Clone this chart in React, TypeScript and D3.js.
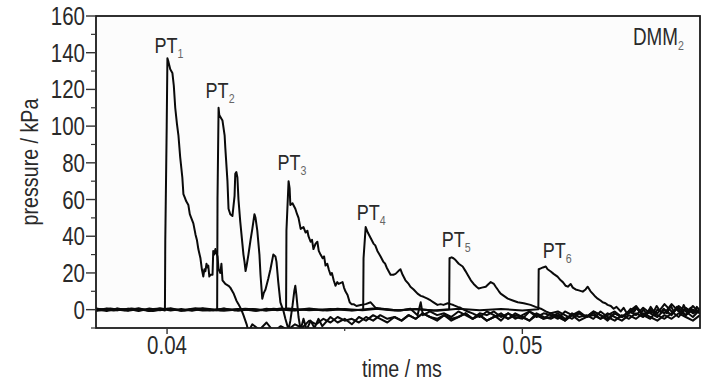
import React from "react";
import * as d3 from "d3";

// ---- axis ticks ----
const X_TICKS = [0.04, 0.05];
const X_MINOR = [0.045];
const Y_TICKS = [0, 20, 40, 60, 80, 100, 120, 140, 160];
const Y_MINOR = [-10, 10, 30, 50, 70, 90, 110, 130, 150];
const X_DOMAIN = [0.038, 0.055];
const Y_DOMAIN = [-10, 160];
const X_LABEL = "time / ms";
const Y_LABEL = "pressure / kPa";
const PANEL = "DMM";
const PANEL_SUB = "2";
const SENSOR_NAMES = ["1", "2", "3", "4", "5", "6"];

// ---- pressure traces (time ms, pressure kPa) ----
const PT1: [number, number][] = [
  [0.038, 0.3], [0.0383, -0.8], [0.0386, 0.6], [0.0389, -0.3], [0.0392, 0.8], [0.0395, -0.7], [0.0398, 0.3], [0.03994, -0.5],
  [0.03995, 38], [0.03999, 100], [0.04001, 137], [0.04004, 135], [0.04009, 131], [0.04015, 129], [0.04019, 122], [0.04023, 110],
  [0.04028, 101], [0.04032, 95], [0.04037, 83], [0.04043, 72], [0.04046, 63], [0.0405, 61], [0.04054, 59], [0.0406, 57],
  [0.04064, 52], [0.04068, 50], [0.04074, 47], [0.0408, 41], [0.04084, 38], [0.04088, 33], [0.04094, 28], [0.04098, 22],
  [0.04102, 18], [0.04105, 22], [0.04108, 21], [0.04111, 25], [0.04114, 23], [0.04116, 24], [0.04119, 18], [0.04122, 19],
  [0.04128, 19], [0.0413, 32], [0.04133, 30], [0.04136, 33], [0.04142, 29], [0.04145, 22], [0.0415, 20], [0.04153, 25],
  [0.04156, 16], [0.04164, 14], [0.04173, 13], [0.04178, 12], [0.04187, 9], [0.04195, 5], [0.04201, 3], [0.04209, 0],
  [0.04215, -3], [0.04224, -8], [0.04229, -12],
];
const PT2: [number, number][] = [
  [0.038, -0.5], [0.0383, 0.7], [0.0386, -0.4], [0.0389, 0.5], [0.0392, -0.7], [0.0395, 0.6], [0.0398, -0.3], [0.0401, 0.8],
  [0.0404, -0.6], [0.0407, 0.4], [0.041, -0.5], [0.04141, -0.3],
  [0.04142, 60], [0.04145, 110], [0.04147, 106], [0.04153, 104], [0.04156, 103], [0.04162, 95], [0.04164, 88], [0.0417, 70],
  [0.04173, 55], [0.04178, 52], [0.04184, 51], [0.0419, 62], [0.04192, 74], [0.04195, 75], [0.04198, 72], [0.04201, 60],
  [0.04206, 48], [0.04212, 36], [0.04215, 30], [0.04218, 26], [0.04221, 21], [0.04224, 24], [0.04229, 30], [0.04235, 38],
  [0.0424, 44], [0.04246, 52], [0.04249, 50], [0.04254, 43], [0.0426, 30], [0.04263, 19], [0.04268, 6], [0.04272, 9],
  [0.04277, 11], [0.04285, 17], [0.04291, 22], [0.04299, 30], [0.04305, 29], [0.04308, 26], [0.04313, 15], [0.04319, 4],
  [0.04328, -1], [0.04333, -5], [0.04342, -11], [0.04347, -6], [0.04353, 2], [0.04358, 10], [0.04361, 13], [0.04364, 8],
  [0.0437, -4], [0.04376, -11], [0.04384, -5], [0.04393, -11], [0.04404, -6], [0.04415, -10], [0.04426, -5], [0.04437, -9],
];
const PT3: [number, number][] = [
  [0.038, 0.7], [0.0383, -0.3], [0.0386, 0.5], [0.0389, -0.6], [0.0392, 0.4], [0.0395, -0.4], [0.0398, 0.6], [0.0401, -0.5],
  [0.0404, 0.3], [0.0407, -0.6], [0.041, 0.5], [0.0413, -0.3], [0.0416, 0.6], [0.0419, -0.4], [0.0422, 0.4], [0.0425, -0.6],
  [0.0428, 0.5], [0.0431, -0.3], [0.04335, 0.2],
  [0.04336, 43], [0.04342, 70], [0.04345, 66], [0.04347, 57], [0.04353, 58], [0.04361, 55], [0.04366, 52], [0.0437, 50],
  [0.04376, 44], [0.04384, 45], [0.0439, 42], [0.04395, 43], [0.04398, 40], [0.04404, 37], [0.04408, 38], [0.04412, 33],
  [0.04418, 36], [0.04423, 37], [0.04427, 32], [0.04432, 30], [0.04438, 28], [0.04442, 29], [0.04446, 24], [0.04451, 25],
  [0.04455, 22], [0.0446, 19], [0.04464, 20], [0.04469, 16], [0.04474, 13], [0.04479, 15], [0.04483, 14], [0.04494, 15],
  [0.04498, 12], [0.04502, 10], [0.04508, 8], [0.04514, 4], [0.04519, 3], [0.04525, 3], [0.04533, 2], [0.04545, 2.5],
  [0.04559, 3], [0.04573, 4], [0.04587, 1], [0.04601, 0.5], [0.04629, 0], [0.04657, -0.5], [0.04685, 0.5], [0.04705, -3],
  [0.04714, 4], [0.0472, -3],
];
const PT4: [number, number][] = [
  [0.038, -0.3], [0.0384, 0.6], [0.0388, -0.5], [0.0392, 0.4], [0.0396, -0.7], [0.04, 0.5], [0.0404, -0.4], [0.0408, 0.7],
  [0.0412, -0.3], [0.0416, 0.5], [0.042, -0.6], [0.0424, 0.4], [0.0428, -0.4], [0.0432, 0.6], [0.0436, -0.5], [0.044, 0.3],
  [0.0444, -0.4], [0.0448, 0.5], [0.0452, -0.3], [0.04552, 0],
  [0.04553, 28], [0.04559, 45], [0.04565, 42], [0.04573, 39], [0.04581, 36], [0.04586, 35], [0.04592, 32], [0.04601, 29],
  [0.04609, 26], [0.04614, 25], [0.04618, 23], [0.04629, 19], [0.04637, 19], [0.04643, 19.5], [0.04651, 21], [0.04657, 22],
  [0.04663, 19], [0.04671, 16], [0.0468, 14], [0.04685, 12.5], [0.04694, 11], [0.04705, 8.7], [0.04714, 7.5], [0.04722, 7],
  [0.04733, 6], [0.04742, 5], [0.0475, 4], [0.04761, 2.6], [0.0477, 3], [0.04778, 2.6], [0.0479, 3.5], [0.04798, 3],
  [0.04806, 2.5], [0.04818, 1.5], [0.04826, 1], [0.04835, 0], [0.04846, -1],
];
const PT5: [number, number][] = [
  [0.038, 0.5], [0.0385, -0.4], [0.039, 0.6], [0.0395, -0.6], [0.04, 0.3], [0.0405, -0.5], [0.041, 0.7], [0.0415, -0.3],
  [0.042, 0.4], [0.0425, -0.6], [0.043, 0.5], [0.0435, -0.4], [0.044, 0.6], [0.0445, -0.5], [0.045, 0.4], [0.0455, -0.3],
  [0.046, 0.6], [0.0465, -0.5], [0.047, 0.4], [0.0475, -0.4], [0.04794, 0.2],
  [0.04795, 28], [0.04801, 28.5], [0.04806, 28], [0.04812, 27], [0.04821, 25], [0.04832, 23.5], [0.0484, 21], [0.04846, 19],
  [0.04855, 16], [0.04863, 14], [0.04871, 12.5], [0.04877, 11.5], [0.04886, 12], [0.04897, 12.5], [0.04905, 14], [0.04911, 15],
  [0.0492, 14], [0.04925, 12.5], [0.04934, 10], [0.04939, 8.7], [0.04948, 7.5], [0.04959, 6], [0.04973, 5], [0.04987, 4],
  [0.05004, 3.5], [0.05023, 2.6], [0.05037, 1.5], [0.05052, 0.5], [0.05066, -1],
];
const PT6: [number, number][] = [
  [0.038, -0.6], [0.0386, 0.4], [0.0392, -0.3], [0.0398, 0.6], [0.0404, -0.5], [0.041, 0.3], [0.0416, -0.6], [0.0422, 0.5],
  [0.0428, -0.4], [0.0434, 0.6], [0.044, -0.3], [0.0446, 0.4], [0.0452, -0.5], [0.0458, 0.6], [0.0464, -0.4], [0.047, 0.3],
  [0.0476, -0.6], [0.0482, 0.5], [0.0488, -0.3], [0.0494, 0.4], [0.05, -0.5], [0.05045, 0.2],
  [0.05046, 22], [0.05052, 22.5], [0.05058, 23], [0.05066, 23.5], [0.05071, 22], [0.0508, 20.8], [0.05088, 19.5], [0.05099, 18],
  [0.05108, 16], [0.05114, 15], [0.05122, 13], [0.05128, 12.5], [0.05136, 14], [0.05142, 12], [0.0515, 11], [0.05159, 10.5],
  [0.0517, 9.8], [0.05178, 11], [0.05184, 12.5], [0.05192, 10], [0.05198, 8.7], [0.05206, 7], [0.05212, 6], [0.0522, 5],
  [0.05226, 4], [0.05234, 3.5], [0.0524, 2.6], [0.05249, 2], [0.05257, 0.5],
  [0.05265, 1.5], [0.05277, -1], [0.05285, 1], [0.05294, -2], [0.05305, 0.5], [0.05313, -1.5], [0.05322, 1], [0.05333, -2],
  [0.05341, 0], [0.0535, -2.5], [0.05361, 1.5], [0.0537, -1], [0.05378, 2], [0.0539, -1.5], [0.05398, 0.5], [0.05407, -2],
  [0.05418, 2], [0.05426, -1], [0.05435, 1.5], [0.05446, -2], [0.05454, 2.5], [0.05463, -1], [0.05474, 1], [0.05482, -2],
  [0.05491, 1.5], [0.05502, -1],
];

// ---- post-shock tails, sampled on a common time grid ----
const TAIL_T = [
  0.0424, 0.0426, 0.0428, 0.043, 0.0432, 0.0434, 0.0436, 0.0438, 0.044, 0.0442,
  0.0444, 0.0446, 0.0448, 0.045, 0.0452, 0.0454, 0.0456, 0.0458, 0.046, 0.0462,
  0.0464, 0.0466, 0.0468, 0.047, 0.0472, 0.0474, 0.0476, 0.0478, 0.048, 0.0482,
  0.0484, 0.0486, 0.0488, 0.049, 0.0492, 0.0494, 0.0496, 0.0498, 0.05, 0.0502,
  0.0504, 0.0506, 0.0508, 0.051, 0.0512, 0.0514, 0.0516, 0.0518, 0.052, 0.0522,
  0.0524, 0.0526, 0.0528, 0.053, 0.0532, 0.0534, 0.0536, 0.0538, 0.054, 0.0542,
  0.0544, 0.0546, 0.0548, 0.055,
];
const PT1_TAIL = [
  -8, -11, -7, -12, -9, -11, -8, -10, -6, -8, -5, -7, -4, -6, -5, -7, -4, -6, -3, -5,
  -4, -6, -3, -5, -2, -4, -5, -3, -6, -4, -2, -5, -3, -6, -4, -3, -5, -2, -4, -6,
  -3, -5, -4, -2, -5, -3, -6, -4, -3, -5, -2, -4, -6, -3, -5, -2, -4, -6, -3, -5,
  -2, -4, -6, -3,
];
const PT2_TAIL = [
  -4, -7, -5, -8, -4, -6, -3, -5, -7, -4, -6, -3, -5, -2, -4, -6, -3, -5, -4, -2,
  -5, -3, -6, -4, -2, -5, -3, -4, -6, -2, -4, -5, -3, -6, -2, -4, -3, -5, -1, -4,
  -6, -3, -5, -2, -4, -1, -3, -5, -2, 1, -3, 0, -2,
];
const PT3_TAIL = [
  -1, -3, -2, -4, -1, -3, -5, -2, -3, -1, -4, -2, -5, -3, -1, -4, -2, -3, -5, -1,
  -3, -2, -4, -1, -3, -5, -2, -4, -1, -3, 1, -2, -4, 0, -3, 2, -1, -4, 0,
];
const PT4_TAIL = [
  -2, -4, -1, -3, -6, -2, -4, -5, -1, -3, -5, -2, -4, -6, -3, -1, -4, -2, -5, -3,
  -1, -4, -2, 1, -3, -5, 0, -2, 3, -1, -3, 2, -2,
];
const PT5_TAIL = [-2, -1, -3, -5, -2, -4, -1, -3, -6, -2, -4, -1, 2, -3, 0, -2, 3, -1, -4, 1, -2, 0];
const TAIL_START = [0, 11, 25, 31, 42];

const HEADS = [PT1, PT2, PT3, PT4, PT5, PT6];
const TAILS = [PT1_TAIL, PT2_TAIL, PT3_TAIL, PT4_TAIL, PT5_TAIL];

const W = 728;
const H = 390;
const M = { left: 96, right: 700, top: 16, bottom: 328 };
const FONT = "'Liberation Sans', Arial, Helvetica, sans-serif";
const SX = 0.82; // condensed look
const TXT = "#2a2a2a";
// label nudges relative to each trace peak (px)
const LABEL_DX = [-13, -13, -11, -9, -10, -3];
const LABEL_DY = [-5, -10, -11, -7, -10, -9];

export default function App() {
  const x = d3.scaleLinear().domain(X_DOMAIN).range([M.left, M.right]);
  const y = d3.scaleLinear().domain(Y_DOMAIN).range([M.bottom, M.top]);
  const line = d3
    .line<[number, number]>()
    .x((d) => x(d[0]))
    .y((d) => y(d[1]));

  const series: [number, number][][] = HEADS.map((head, k) => {
    const tail = TAILS[k];
    if (!tail) return head;
    const start = TAIL_START[k];
    const pts: [number, number][] = tail
      .map((v, i) => [TAIL_T[start + i], v] as [number, number])
      .filter((d) => d[0] !== undefined);
    return head.concat(pts);
  });

  const labels = series.map((s, k) => {
    const peak = s.reduce((a, b) => (b[1] > a[1] ? b : a));
    return { name: SENSOR_NAMES[k], x: x(peak[0]) + LABEL_DX[k], y: y(peak[1]) + LABEL_DY[k] };
  });

  return (
    <svg
      width={W}
      height={H}
      style={{ position: "absolute", left: 0, top: 0, background: "#fff" }}
      fontFamily={FONT}
    >
      <defs>
        <clipPath id="plot">
          <rect x={M.left} y={M.top} width={M.right - M.left} height={M.bottom - M.top} />
        </clipPath>
      </defs>
      <rect x={M.left} y={M.top} width={M.right - M.left} height={M.bottom - M.top} fill="#fcfcfc" />

      <g clipPath="url(#plot)" fill="none" stroke="#0a0a0a" strokeWidth={2} strokeLinejoin="round">
        {series.map((s, k) => (
          <path key={k} d={line(s) || ""} />
        ))}
      </g>

      {/* frame */}
      <rect
        x={M.left}
        y={M.top}
        width={M.right - M.left}
        height={M.bottom - M.top}
        fill="none"
        stroke="#1a1a1a"
        strokeWidth={1.8}
      />

      {/* y ticks */}
      {Y_TICKS.map((v) => (
        <g key={"y" + v}>
          <line x1={M.left - 10} x2={M.left} y1={y(v)} y2={y(v)} stroke="#333" strokeWidth={1.4} />
          <text
            transform={`translate(${M.left - 11},${y(v) + 9}) scale(${SX},1)`}
            textAnchor="end"
            fontSize={25}
            fill={TXT}
          >
            {v}
          </text>
        </g>
      ))}
      {Y_MINOR.map((v) => (
        <line key={"ym" + v} x1={M.left - 5} x2={M.left} y1={y(v)} y2={y(v)} stroke="#333" strokeWidth={1.2} />
      ))}

      {/* x ticks */}
      {X_TICKS.map((v) => (
        <g key={"x" + v}>
          <line x1={x(v)} x2={x(v)} y1={M.bottom} y2={M.bottom + 6} stroke="#333" strokeWidth={1.4} />
          <text
            transform={`translate(${x(v)},${M.bottom + 26}) scale(${SX},1)`}
            textAnchor="middle"
            fontSize={25}
            fill={TXT}
          >
            {d3.format(".2f")(v)}
          </text>
        </g>
      ))}
      {X_MINOR.map((v) => (
        <line key={"xm" + v} x1={x(v)} x2={x(v)} y1={M.bottom} y2={M.bottom + 3} stroke="#333" strokeWidth={1.2} />
      ))}

      {/* axis titles */}
      <text
        transform={`translate(402,377) scale(${SX},1)`}
        textAnchor="middle"
        fontSize={24}
        fill={TXT}
      >
        {X_LABEL}
      </text>
      <text
        transform={`translate(38,162) rotate(-90) scale(${SX},1)`}
        textAnchor="middle"
        fontSize={24}
        fill={TXT}
      >
        {Y_LABEL}
      </text>

      {/* sensor labels */}
      {labels.map((l) => (
        <text
          key={l.name}
          transform={`translate(${l.x},${l.y}) scale(${SX},1)`}
          fontSize={22}
          fill={TXT}
        >
          PT
          <tspan dy={5} fontSize={13} fill="#666">
            {l.name}
          </tspan>
        </text>
      ))}

      {/* panel label */}
      <text transform={`translate(633,45) scale(${SX},1)`} fontSize={23} fill={TXT}>
        {PANEL}
        <tspan dy={5} fontSize={13} fill="#666">
          {PANEL_SUB}
        </tspan>
      </text>
    </svg>
  );
}
